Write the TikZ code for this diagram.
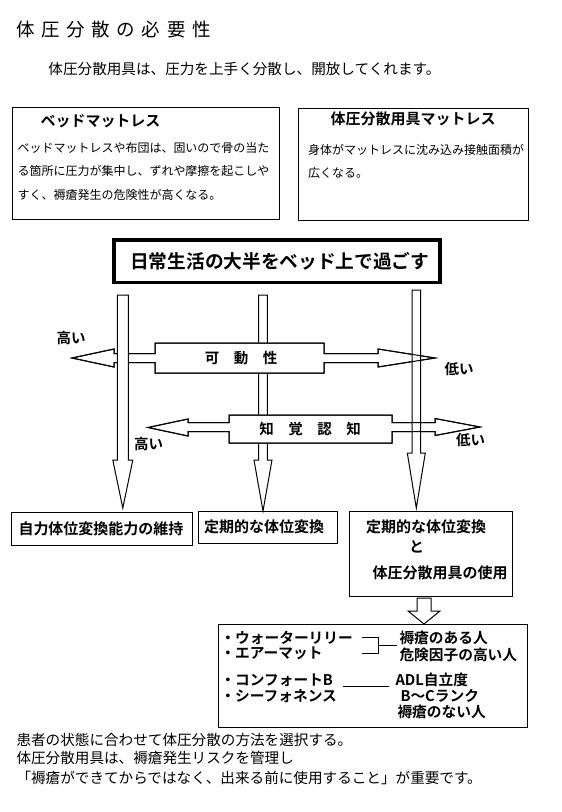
\documentclass[tikz,border=0pt]{standalone}
\usepackage{fontspec}
\setmainfont{Noto Sans CJK JP}[BoldFont={Noto Sans CJK JP Bold}]
\newcommand\vblock[6]{%
  \filldraw[fill=white] ({#1-#5},#2) -- ({#1+#5},#2) -- ({#1+#5},#3) -- ({#1+#6},#3)
    -- (#1,#4) -- ({#1-#6},#3) -- ({#1-#5},#3) -- cycle;}
\newcommand\kadopath{(155,343) -- (324,343) -- (324,353.5) -- (378,353.5) -- (378,349) -- (435,358)
  -- (378,367) -- (378,362.5) -- (324,362.5) -- (324,373) -- (155,373) -- (155,362.5)
  -- (114,362.5) -- (114,367) -- (72,358) -- (114,349) -- (114,353.5) -- (155,353.5) -- cycle}
\newcommand\chikakupath{(229,415) -- (392,415) -- (392,422.5) -- (435,422.5) -- (435,418.5) -- (480,427)
  -- (435,435.5) -- (435,431.5) -- (392,431.5) -- (392,443) -- (229,443) -- (229,431.5)
  -- (188,431.5) -- (188,436) -- (148,427.5) -- (188,419) -- (188,422.5) -- (229,422.5) -- cycle}
\begin{document}
\begin{tikzpicture}[x=1pt,y=-1pt,line width=1pt,line join=miter,
  txt/.style={inner sep=0pt,anchor=west},
  ctxt/.style={inner sep=0pt,anchor=center},
  fs/.style={font=\fontsize{#1pt}{#1pt}\selectfont},
  fsb/.style={font=\fontsize{#1pt}{#1pt}\selectfont\bfseries},
  frame/.style={draw,line width=1pt}]
\useasboundingbox[fill=white] (0,0) rectangle (562,812);

% header
\node[txt,fs=18.5] (title) at (16,30) {体\hspace{6.6pt}圧\hspace{6.6pt}分\hspace{6.6pt}散\hspace{6.6pt}の\hspace{6.6pt}必\hspace{6.6pt}要\hspace{6.6pt}性};
\node[txt,fs=14.6] (sub) at (48,69) {体圧分散用具は、圧力を上手く分散し、開放してくれます。};

% top boxes
\draw[frame] (12.5,107.5) rectangle (279.5,219.3);
\node[txt,fsb=15] (b1t) at (40,120.7) {ベッドマットレス};
\node[txt,fs=12] (b1a) at (17,148) {ベッドマットレスや布団は、固いので骨の当た};
\node[txt,fs=12] (b1b) at (17,171) {る箇所に圧力が集中し、ずれや摩擦を起こしや};
\node[txt,fs=12] (b1c) at (17,195) {すく、褥瘡発生の危険性が高くなる。};

\draw[frame] (298,108) rectangle (528.5,220);
\node[txt,fsb=15] (b2t) at (330,119) {体圧分散用具マットレス};
\node[txt,fs=12] (b2a) at (307.5,150) {身体がマットレスに沈み込み接触面積が};
\node[txt,fs=12] (b2b) at (307.5,172.7) {広くなる。};

% main box
\draw[line width=3.2pt] (114,240) rectangle (440,282.7);
\node[txt,fsb=18.7] (main) at (129.7,261.7) {日常生活の大半をベッド上で過ごす};

% middle vertical arrow (below callouts)
\vblock{263}{295}{460}{511}{4.3}{9}

% callouts (filled)
\filldraw[fill=white] \kadopath;
\filldraw[fill=white] \chikakupath;

% right vertical arrow, then callout outlines drawn across it
\vblock{416.3}{290}{453}{508}{4.3}{9}
\draw \kadopath;
\draw \chikakupath;

% left vertical arrow (on top)
\vblock{122.8}{295}{460}{508}{5.5}{10}

\node[ctxt,fsb=14.5] (kado) at (241,358.5) {可\hspace{14.5pt}動\hspace{14.5pt}性};
\node[ctxt,fsb=14.5] (chikaku) at (310,429) {知\hspace{14.5pt}覚\hspace{14.5pt}認\hspace{14.5pt}知};

% labels
\node[ctxt,fsb=14.5] (hi1) at (71,338) {高い};
\node[ctxt,fsb=14.5] (lo1) at (459,369) {低い};
\node[ctxt,fsb=14.5] (hi2) at (148.5,443.5) {高い};
\node[ctxt,fsb=14.5] (lo2) at (470.5,440) {低い};

% result boxes
\draw[frame] (11,512.5) rectangle (192,545);
\node[txt,fsb=15] (r1) at (18,528.5) {自力体位変換能力の維持};
\draw[frame] (198,511) rectangle (337.5,543.5);
\node[txt,fsb=15] (r2) at (203.6,527) {定期的な体位変換};
\draw[frame] (349.5,511) rectangle (512.5,596);
\node[txt,fsb=15] (r3a) at (365.6,527) {定期的な体位変換};
\node[txt,fsb=15] (r3b) at (408.6,547) {と};
\node[txt,fsb=15] (r3c) at (372,573) {体圧分散用具の使用};

% down arrow
\vblock{424}{598}{611}{624}{7}{16}

% bottom box
\draw[frame] (218.3,624) rectangle (527,727);
\node[txt,fsb=14.7] (w1) at (220,638.3) {・ウォーターリリー};
\node[txt,fsb=14.7] (w2) at (220,653.3) {・エアーマット};
\node[txt,fsb=14.7] (p1) at (399,638) {褥瘡のある人};
\node[txt,fsb=14.7] (p2) at (399,655) {危険因子の高い人};
\node[txt,fsb=14.7] (c1) at (220,680) {・コンフォートB};
\node[txt,fsb=14.7] (c2) at (220,696) {・シーフォネンス};
\node[txt,fsb=14.7] (q1) at (395,680) {ADL自立度};
\node[txt,fsb=14.7] (q2) at (400,696) {B～Cランク};
\node[txt,fsb=14.7] (q3) at (397,711.7) {褥瘡のない人};
\draw (362,637.7) -- (378,637.7) -- (378,653) -- (362,653);
\draw (378,645) -- (397,645);
\draw (343,686.7) -- (389,686.7);

% footer
\node[txt,fs=14.6] (f1) at (16,740) {患者の状態に合わせて体圧分散の方法を選択する。};
\node[txt,fs=14.6] (f2) at (16,758.3) {体圧分散用具は、褥瘡発生リスクを管理し};
\node[txt,fs=14.6] (f3) at (16,778.3) {「褥瘡ができてからではなく、出来る前に使用すること」が重要です。};
\end{tikzpicture}
\end{document}
